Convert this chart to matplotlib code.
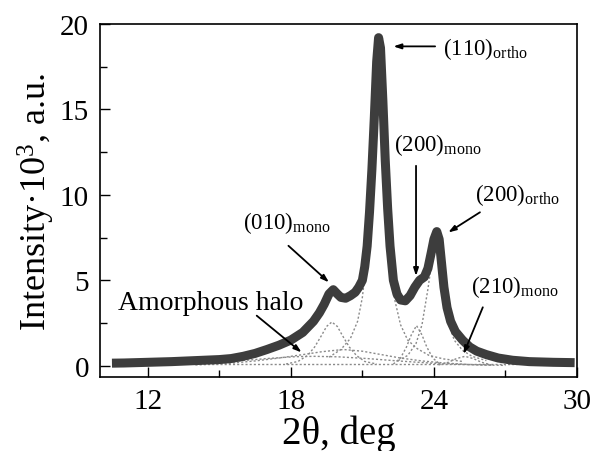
import numpy as np
import matplotlib
matplotlib.use('Agg')
import matplotlib.pyplot as plt
from matplotlib.ticker import MultipleLocator


plt.rcParams['font.family'] = ['Liberation Serif', 'DejaVu Serif']
plt.rcParams['mathtext.fontset'] = 'custom'
plt.rcParams['mathtext.rm'] = 'Liberation Serif'
plt.rcParams['mathtext.it'] = 'Liberation Serif:italic'


twoTheta = [10.5, 11, 12, 13, 14, 15, 15.5, 16, 16.5, 17, 17.5, 18, 18.5, 18.95, 19.2, 19.4, 19.6,
            19.78, 19.95, 20.1, 20.3, 20.5, 20.7, 20.85, 21.0, 21.1, 21.2, 21.3, 21.4, 21.5, 21.6,
            21.68, 21.76, 21.86, 21.96, 22.06, 22.16, 22.3, 22.45, 22.6, 22.8, 23.0, 23.2, 23.4,
            23.6, 23.75, 23.9, 24.0, 24.12, 24.22, 24.32, 24.42, 24.55, 24.7, 24.9, 25.2, 25.5,
            25.8, 26.2, 26.7, 27.3, 28, 29, 29.9]
intensity = [0.15, 0.16, 0.2, 0.24, 0.3, 0.36, 0.42, 0.55, 0.72, 0.95, 1.2, 1.5, 1.95, 2.6, 3.1, 3.6, 4.2,
             4.45, 4.2, 4.0, 3.95, 4.1, 4.3, 4.6, 5.0, 5.8, 7.0, 9.0, 11.5, 14.5, 17.8,
             19.2, 18.6, 15.5, 12.0, 9.2, 7.0, 5.0, 4.2, 3.85, 3.8, 4.1, 4.6, 5.0,
             5.2, 5.7, 6.7, 7.4, 7.85, 7.4, 6.0, 4.6, 3.4, 2.6, 2.0, 1.5, 1.1,
             0.85, 0.65, 0.45, 0.32, 0.24, 0.2, 0.18]

# fitted components (dotted)
haloAX = [14, 15.5, 16.5, 17.5, 18.5, 19.3, 20.2, 21.0, 21.8, 22.6, 23.5, 24.5, 25.5, 26.5]
haloAY = [0.05, 0.15, 0.28, 0.45, 0.65, 0.82, 0.95, 0.85, 0.65, 0.45, 0.28, 0.15, 0.07, 0.03]
haloBX = [12.5, 14, 15.5, 17, 18.2, 19.0, 20.0, 21.2, 22.5, 24, 25.5, 27]
haloBY = [0.05, 0.12, 0.25, 0.42, 0.53, 0.55, 0.52, 0.42, 0.28, 0.14, 0.06, 0.02]
baseX = [14, 27.5]
baseY = [0.08, 0.08]
mono010X = [17.8, 18.3, 18.7, 19.0, 19.3, 19.5, 19.72, 19.95, 20.15, 20.45, 20.75, 21.1, 21.6]
mono010Y = [0.1, 0.25, 0.6, 1.1, 1.8, 2.3, 2.56, 2.3, 1.8, 1.1, 0.6, 0.25, 0.1]
ortho110X = [19.6, 20.1, 20.5, 20.8, 21.0, 21.2, 21.35, 21.5, 21.6, 21.68, 21.76, 21.86, 22.0,
             22.15, 22.35, 22.6, 22.9, 23.3, 23.8, 24.4, 25.2]
ortho110Y = [0.5, 0.95, 1.6, 2.6, 4.0, 6.5, 9.5, 13.5, 16.5, 18.0, 16.5, 13.0, 9.0,
             6.0, 3.9, 2.4, 1.5, 1.0, 0.6, 0.4, 0.25]
mono200X = [22.3, 22.6, 22.85, 23.05, 23.27, 23.5, 23.7, 23.95, 24.25]
mono200Y = [0.1, 0.45, 1.1, 1.8, 2.35, 1.8, 1.1, 0.45, 0.1]
ortho200X = [22.5, 22.9, 23.25, 23.5, 23.75, 23.9, 24.05, 24.2, 24.38, 24.6, 24.85, 25.2, 25.6, 26.2]
ortho200Y = [0.3, 0.6, 1.3, 2.4, 4.5, 6.0, 7.1, 6.2, 4.5, 2.6, 1.5, 0.9, 0.55, 0.3]
mono210X = [24.2, 24.6, 24.95, 25.3, 25.65, 26.0, 26.4]
mono210Y = [0.05, 0.2, 0.42, 0.55, 0.42, 0.2, 0.05]

components = [(haloAX, haloAY), (haloBX, haloBY), (baseX, baseY), (mono010X, mono010Y),
              (ortho110X, ortho110Y), (mono200X, mono200Y), (ortho200X, ortho200Y),
              (mono210X, mono210Y)]

# labels: text, text position, arrow tail, arrow head
labels = [
    (r'(110)$_{\mathregular{ortho}}$', (24.38, 18.24), (24.05, 18.69), (22.3, 18.69)),
    (r'(200)$_{\mathregular{mono}}$', (22.33, 12.62), (23.25, 11.7), (23.25, 5.25)),
    (r'(200)$_{\mathregular{ortho}}$', (25.72, 9.7), (25.93, 8.98), (24.6, 7.8)),
    (r'(010)$_{\mathregular{mono}}$', (16.0, 8.06), (17.9, 7.02), (19.6, 4.88)),
    (r'(210)$_{\mathregular{mono}}$', (25.56, 4.31), (26.05, 3.42), (25.24, 0.68)),
]


fig = plt.figure(figsize=(5.94, 4.52), dpi=100)
ax = fig.add_axes([0.1684, 0.1637, 0.803, 0.781])

for cx, cy in components:
    ax.plot(cx, cy, color='#8a8a8a', lw=1.0, ls=(0, (1.5, 1.5)), zorder=2)

ax.plot(twoTheta, intensity, color='#3d3d3d', lw=6.5, solid_capstyle='butt',
        solid_joinstyle='round', zorder=3)

for text, pos, tail, head in labels:
    ax.text(pos[0], pos[1], text, fontsize=16.5, ha='left', va='baseline', zorder=5)
    ax.annotate('', xy=head, xytext=tail,
                arrowprops=dict(arrowstyle='-|>,head_length=0.45,head_width=0.15',
                                color='black', lw=1.3, shrinkA=0, shrinkB=0), zorder=5)

ax.text(10.75, 3.32, 'Amorphous halo', fontsize=20, ha='left', va='baseline', zorder=5)
ax.annotate('', xy=(18.45, 0.78), xytext=(16.57, 2.93),
            arrowprops=dict(arrowstyle='-|>,head_length=0.45,head_width=0.15',
                            color='black', lw=1.3, shrinkA=0, shrinkB=0), zorder=5)

ax.set_xlim(10, 30)
ax.set_ylim(-0.66, 20)
ax.xaxis.set_major_locator(MultipleLocator(6))
ax.xaxis.set_minor_locator(MultipleLocator(3))
ax.yaxis.set_major_locator(MultipleLocator(5))
ax.yaxis.set_minor_locator(MultipleLocator(2.5))
ax.set_xticks([12, 18, 24, 30])
ax.tick_params(which='both', direction='in', top=False, right=False, labelsize=21, width=1)
ax.tick_params(which='major', length=7, pad=8)
ax.tick_params(which='minor', length=5)
for sp in ax.spines.values():
    sp.set_linewidth(1.2)

ax.set_xlabel('2θ, deg', fontsize=28, labelpad=0)
ax.set_ylabel(r'Intensity·10$^{3}$, a.u.', fontsize=26, labelpad=2)

fig.savefig('out.png', dpi=100)
